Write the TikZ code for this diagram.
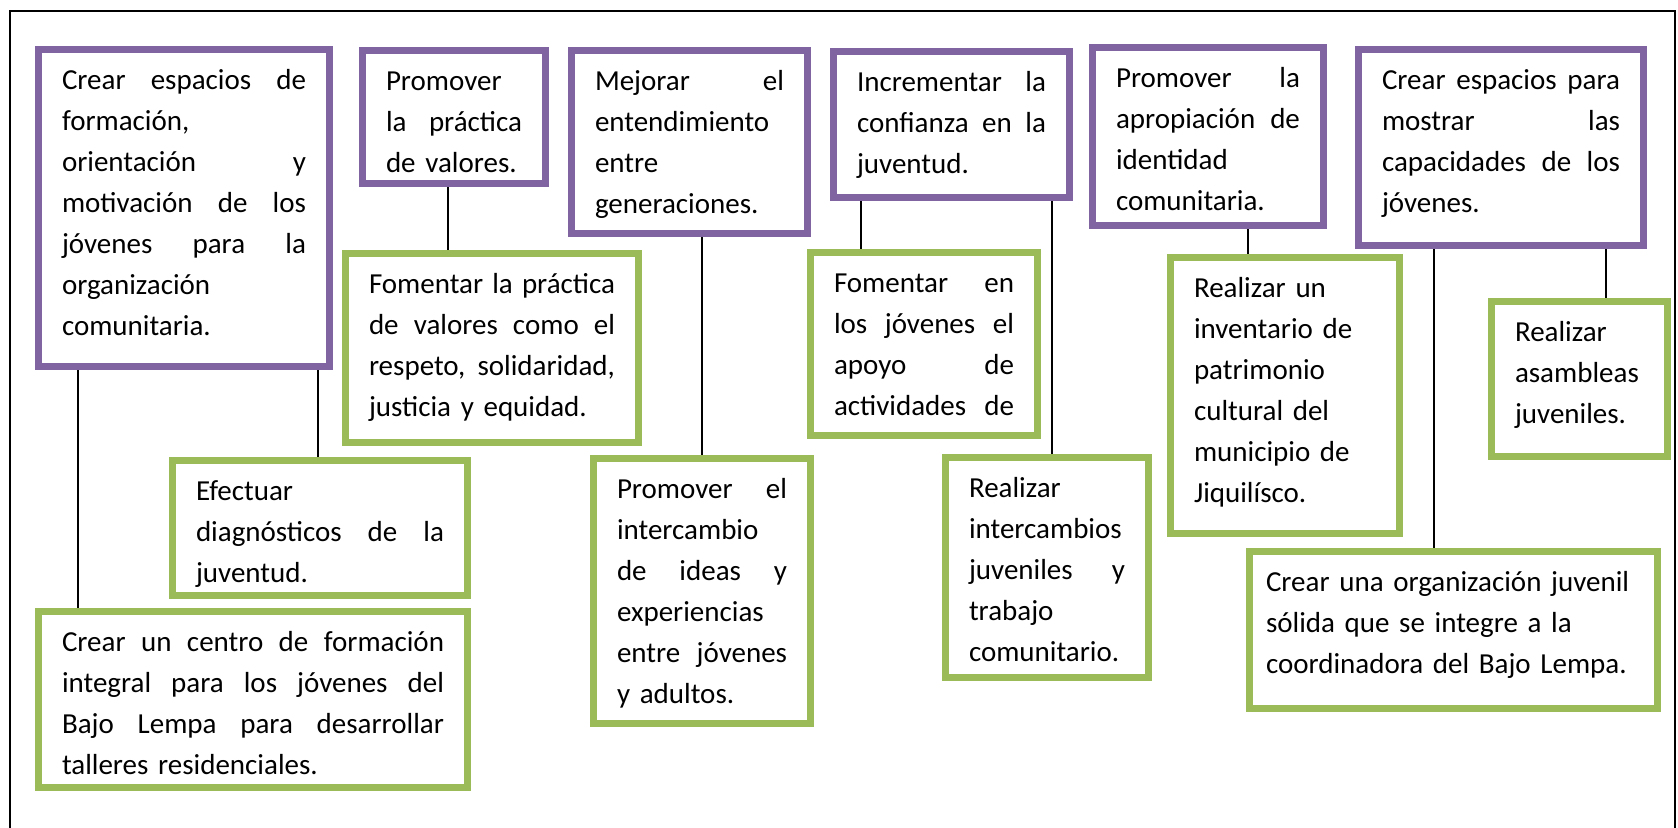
\documentclass[tikz,border=0pt]{standalone}
\usepackage{fontspec}
\setmainfont{Carlito}
\usepackage{tikz}

\definecolor{objpurple}{HTML}{8064A2}
\definecolor{actgreen}{HTML}{9BBB59}
\newcommand{\jline}[1]{\leavevmode\hbox to\hsize{\spaceskip=\fontdimen2\font plus 1fil\relax #1}}

\begin{document}
\begin{tikzpicture}[x=0.5pt, y=-0.5pt,
    box/.style={draw, line width=3.5pt, anchor=north west, inner sep=0pt,
      text height=19.75pt, align=left, font=\fontsize{14.5pt}{20.5pt}\selectfont},
    objective/.style={box, draw=objpurple},
    action/.style={box, draw=actgreen},
    link/.style={line width=0.9pt}]
    \useasboundingbox (0,0) rectangle (1678,827);
    \draw[line width=1.2pt] (10,900) -- (10,11) -- (1675,11) -- (1675,900);

    \node[objective, minimum width=145.5pt, text width=122pt, text depth=138.75pt] (p1) at (35,46)
      {\jline{Crear espacios de}\\ formación,\\ \jline{orientación y}\\ \jline{motivación de los}\\ \jline{jóvenes para la}\\ organización\\ comunitaria.};
    \node[objective, minimum width=91.5pt, text width=68pt, text depth=46.75pt] (p2) at (359,47)
      {Promover\\ \jline{la práctica}\\ de valores.};
    \node[objective, minimum width=118pt, text width=94.5pt, text depth=71.75pt] (p3) at (568,47)
      {\jline{Mejorar el}\\ entendimiento\\ entre\\ generaciones.};
    \node[objective, minimum width=118pt, text width=94.5pt, text depth=53.25pt] (p4) at (830,48)
      {\jline{Incrementar la}\\ \jline{confianza en la}\\ juventud.};
    \node[objective, minimum width=115.5pt, text width=92pt, text depth=69.25pt] (p5) at (1089,44)
      {\jline{Promover la}\\ \jline{apropiación de}\\ identidad\\ comunitaria.};
    \node[objective, minimum width=142.5pt, text width=119pt, text depth=78.25pt] (p6) at (1355,46)
      {\jline{Crear espacios para}\\ \jline{mostrar las}\\ \jline{capacidades de los}\\ jóvenes.};

    \node[action, minimum width=147.5pt, text width=124pt, text depth=47.75pt] (g1) at (169,457)
      {Efectuar\\ \jline{diagnósticos de la}\\ juventud.};
    \node[action, minimum width=214.5pt, text width=191pt, text depth=68.25pt] (g2) at (35,608)
      {\jline{Crear un centro de formación}\\ \jline{integral para los jóvenes del}\\ \jline{Bajo Lempa para desarrollar}\\ talleres residenciales.};
    \node[action, minimum width=146.5pt, text width=123pt, text depth=74.75pt] (g3) at (342,250)
      {\jline{Fomentar la práctica}\\ \jline{de valores como el}\\ \jline{respeto, solidaridad,}\\ justicia y equidad.};
    \node[action, minimum width=108.5pt, text width=85pt, text depth=112.75pt] (g4) at (590,455)
      {\jline{Promover el}\\ intercambio\\ \jline{de ideas y}\\ experiencias\\ \jline{entre jóvenes}\\ y adultos.};
    \node[action, minimum width=113.5pt, text width=90pt, text depth=71.75pt] (g5) at (807,249)
      {\jline{Fomentar en}\\ \jline{los jóvenes el}\\ \jline{apoyo de}\\ \jline{actividades de}};
    \node[action, minimum width=101.5pt, text width=78pt, text depth=90.25pt] (g6) at (942,454)
      {Realizar\\ intercambios\\ \jline{juveniles y}\\ trabajo\\ comunitario.};
    \node[action, minimum width=114.5pt, text width=91pt, text depth=118.25pt] (g7) at (1167,254)
      {Realizar un\\ inventario de\\ patrimonio\\ cultural del\\ municipio de\\ Jiquilísco.};
    \node[action, minimum width=88pt, text width=64.5pt, text depth=57.75pt] (g8) at (1488,298)
      {Realizar\\ asambleas\\ juveniles.};
    \node[action, minimum width=204pt, text width=187.5pt, text depth=58.75pt] (g9) at (1246,548)
      {Crear una organización juvenil\\ sólida que se integre a la\\ coordinadora del Bajo Lempa.};

    \draw[link] (p1.south -| 78,0) -- (g2.north -| 78,0);
    \draw[link] (p1.south -| 318,0) -- (g1.north -| 318,0);
    \draw[link] (p2.south -| 448,0) -- (g3.north -| 448,0);
    \draw[link] (p3.south -| 702,0) -- (g4.north -| 702,0);
    \draw[link] (p4.south -| 861,0) -- (g5.north -| 861,0);
    \draw[link] (p4.south -| 1052,0) -- (g6.north -| 1052,0);
    \draw[link] (p5.south -| 1248,0) -- (g7.north -| 1248,0);
    \draw[link] (p6.south -| 1434,0) -- (g9.north -| 1434,0);
    \draw[link] (p6.south -| 1606,0) -- (g8.north -| 1606,0);
\end{tikzpicture}
\end{document}
